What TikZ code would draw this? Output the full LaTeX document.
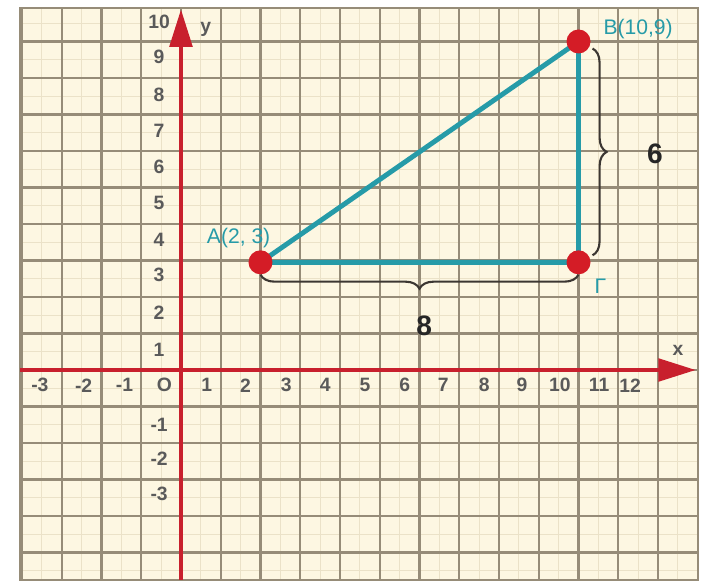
\documentclass[tikz,border=0pt]{standalone}
\usepackage{fontspec}
\setmainfont{Liberation Sans}
\usetikzlibrary{arrows.meta,decorations.pathreplacing}

\definecolor{paper}{RGB}{253,247,226}
\definecolor{gridbrown}{RGB}{150,140,120}
\definecolor{minorbrown}{RGB}{235,226,200}
\definecolor{axisred}{RGB}{200,32,45}
\definecolor{triteal}{RGB}{38,155,168}
\definecolor{dotred}{RGB}{212,28,38}
\definecolor{bracegray}{RGB}{60,55,50}
\definecolor{ticktext}{RGB}{90,90,90}

\tikzset{
    gridline/.style={draw=gridbrown, line width=1.2pt},
    minorline/.style={draw=minorbrown, line width=0.5pt},
    axis/.style={draw=axisred, line width=2.3pt, -{Triangle[length=0.75cm, width=0.45cm]}},
    side/.style={draw=triteal, line width=2.8pt},
    tick/.style={text=ticktext, font=\fontsize{11}{13}\selectfont\bfseries, inner sep=0pt},
    ptlabel/.style={text=triteal, font=\fontsize{12}{14}\selectfont, inner sep=0pt},
    bignum/.style={text=black!85, font=\fontsize{16}{18}\selectfont\bfseries, inner sep=0pt},
    curly/.style={draw=bracegray, line width=1.2pt, decorate}
}

\begin{document}
\begin{tikzpicture}[x=0.795cm, y=0.73cm]
    \useasboundingbox (-4.553,-5.890) rectangle (13.333,10.137);

    % paper
    \fill[paper] (-4.05,-5.75) rectangle (13.0,9.92);
    \foreach \x in {-3.5,-2.5,...,12.5} {
        \draw[minorline] (\x,-5.75) -- (\x,9.92);
    }
    \foreach \y in {-5.5,-4.5,...,9.5} {
        \draw[minorline] (-4.05,\y) -- (13.0,\y);
    }

    % draw grid
    \foreach \x in {-4,...,13} {
        \draw[gridline] (\x,-5.75) -- (\x,9.92);
    }
    \foreach \y in {-5,...,9} {
        \draw[gridline] (-4.05,\y) -- (13.0,\y);
    }
    \draw[gridline] (-4.05,-5.75) rectangle (13.0,9.92);

    % draw axes
    \draw[axis] (-4.05,0) -- (12.95,0);
    \draw[axis] (0,-5.75) -- (0,9.88);
    \node[tick] (xlab) at (12.5,0.55) {x};
    \node[tick] (ylab) at (0.62,9.32) {y};

    % tick labels
    \foreach \n/\p in {-3/-3.55, -2/-2.45, -1/-1.42, 1/0.65, 2/1.62, 3/2.65, 4/3.63, 5/4.63, 6/5.63, 7/6.6, 8/7.63, 9/8.58, 10/9.53, 11/10.52, 12/11.3} {
        \node[tick] (xt\n) at (\p,-0.42) {\n};
    }
    \node[tick] (orig) at (-0.42,-0.42) {O};
    \foreach \n/\p in {10/9.53, 9/8.58, 8/7.55, 7/6.55, 6/5.56, 5/4.58, 4/3.56, 3/2.6, 2/1.56, 1/0.55, -1/-1.5, -2/-2.42, -3/-3.38} {
        \node[tick] (yt\n) at (-0.55,\p) {\n};
    }

    % triangle
    \coordinate (pA) at (2,2.95);
    \coordinate (pB) at (10,9);
    \coordinate (pG) at (10,2.95);
    \draw[side] (pA) -- (pG) -- (pB) -- cycle;

    % braces
    \draw[curly, decoration={brace, amplitude=8pt, mirror}]
        ([yshift=-7pt]pA) -- ([yshift=-7pt]pG);
    \draw[curly, decoration={brace, amplitude=8pt}]
        ([xshift=8pt,yshift=-4pt]pB) -- ([xshift=8pt,yshift=4pt]pG);
    \node[bignum] (eight) at (6.12,1.22) {8};
    \node[bignum] (six) at (11.92,5.92) {6};

    % vertices
    \foreach \p in {pA, pB, pG} {
        \fill[dotred] (\p) circle (0.24cm);
    }
    \node[ptlabel] (labA) at (1.45,3.62) {Α(2, 3)};
    \node[ptlabel] (labB) at (11.5,9.33) {Β(10,9)};
    \node[ptlabel] (labG) at (10.55,2.3) {Γ};
\end{tikzpicture}
\end{document}
